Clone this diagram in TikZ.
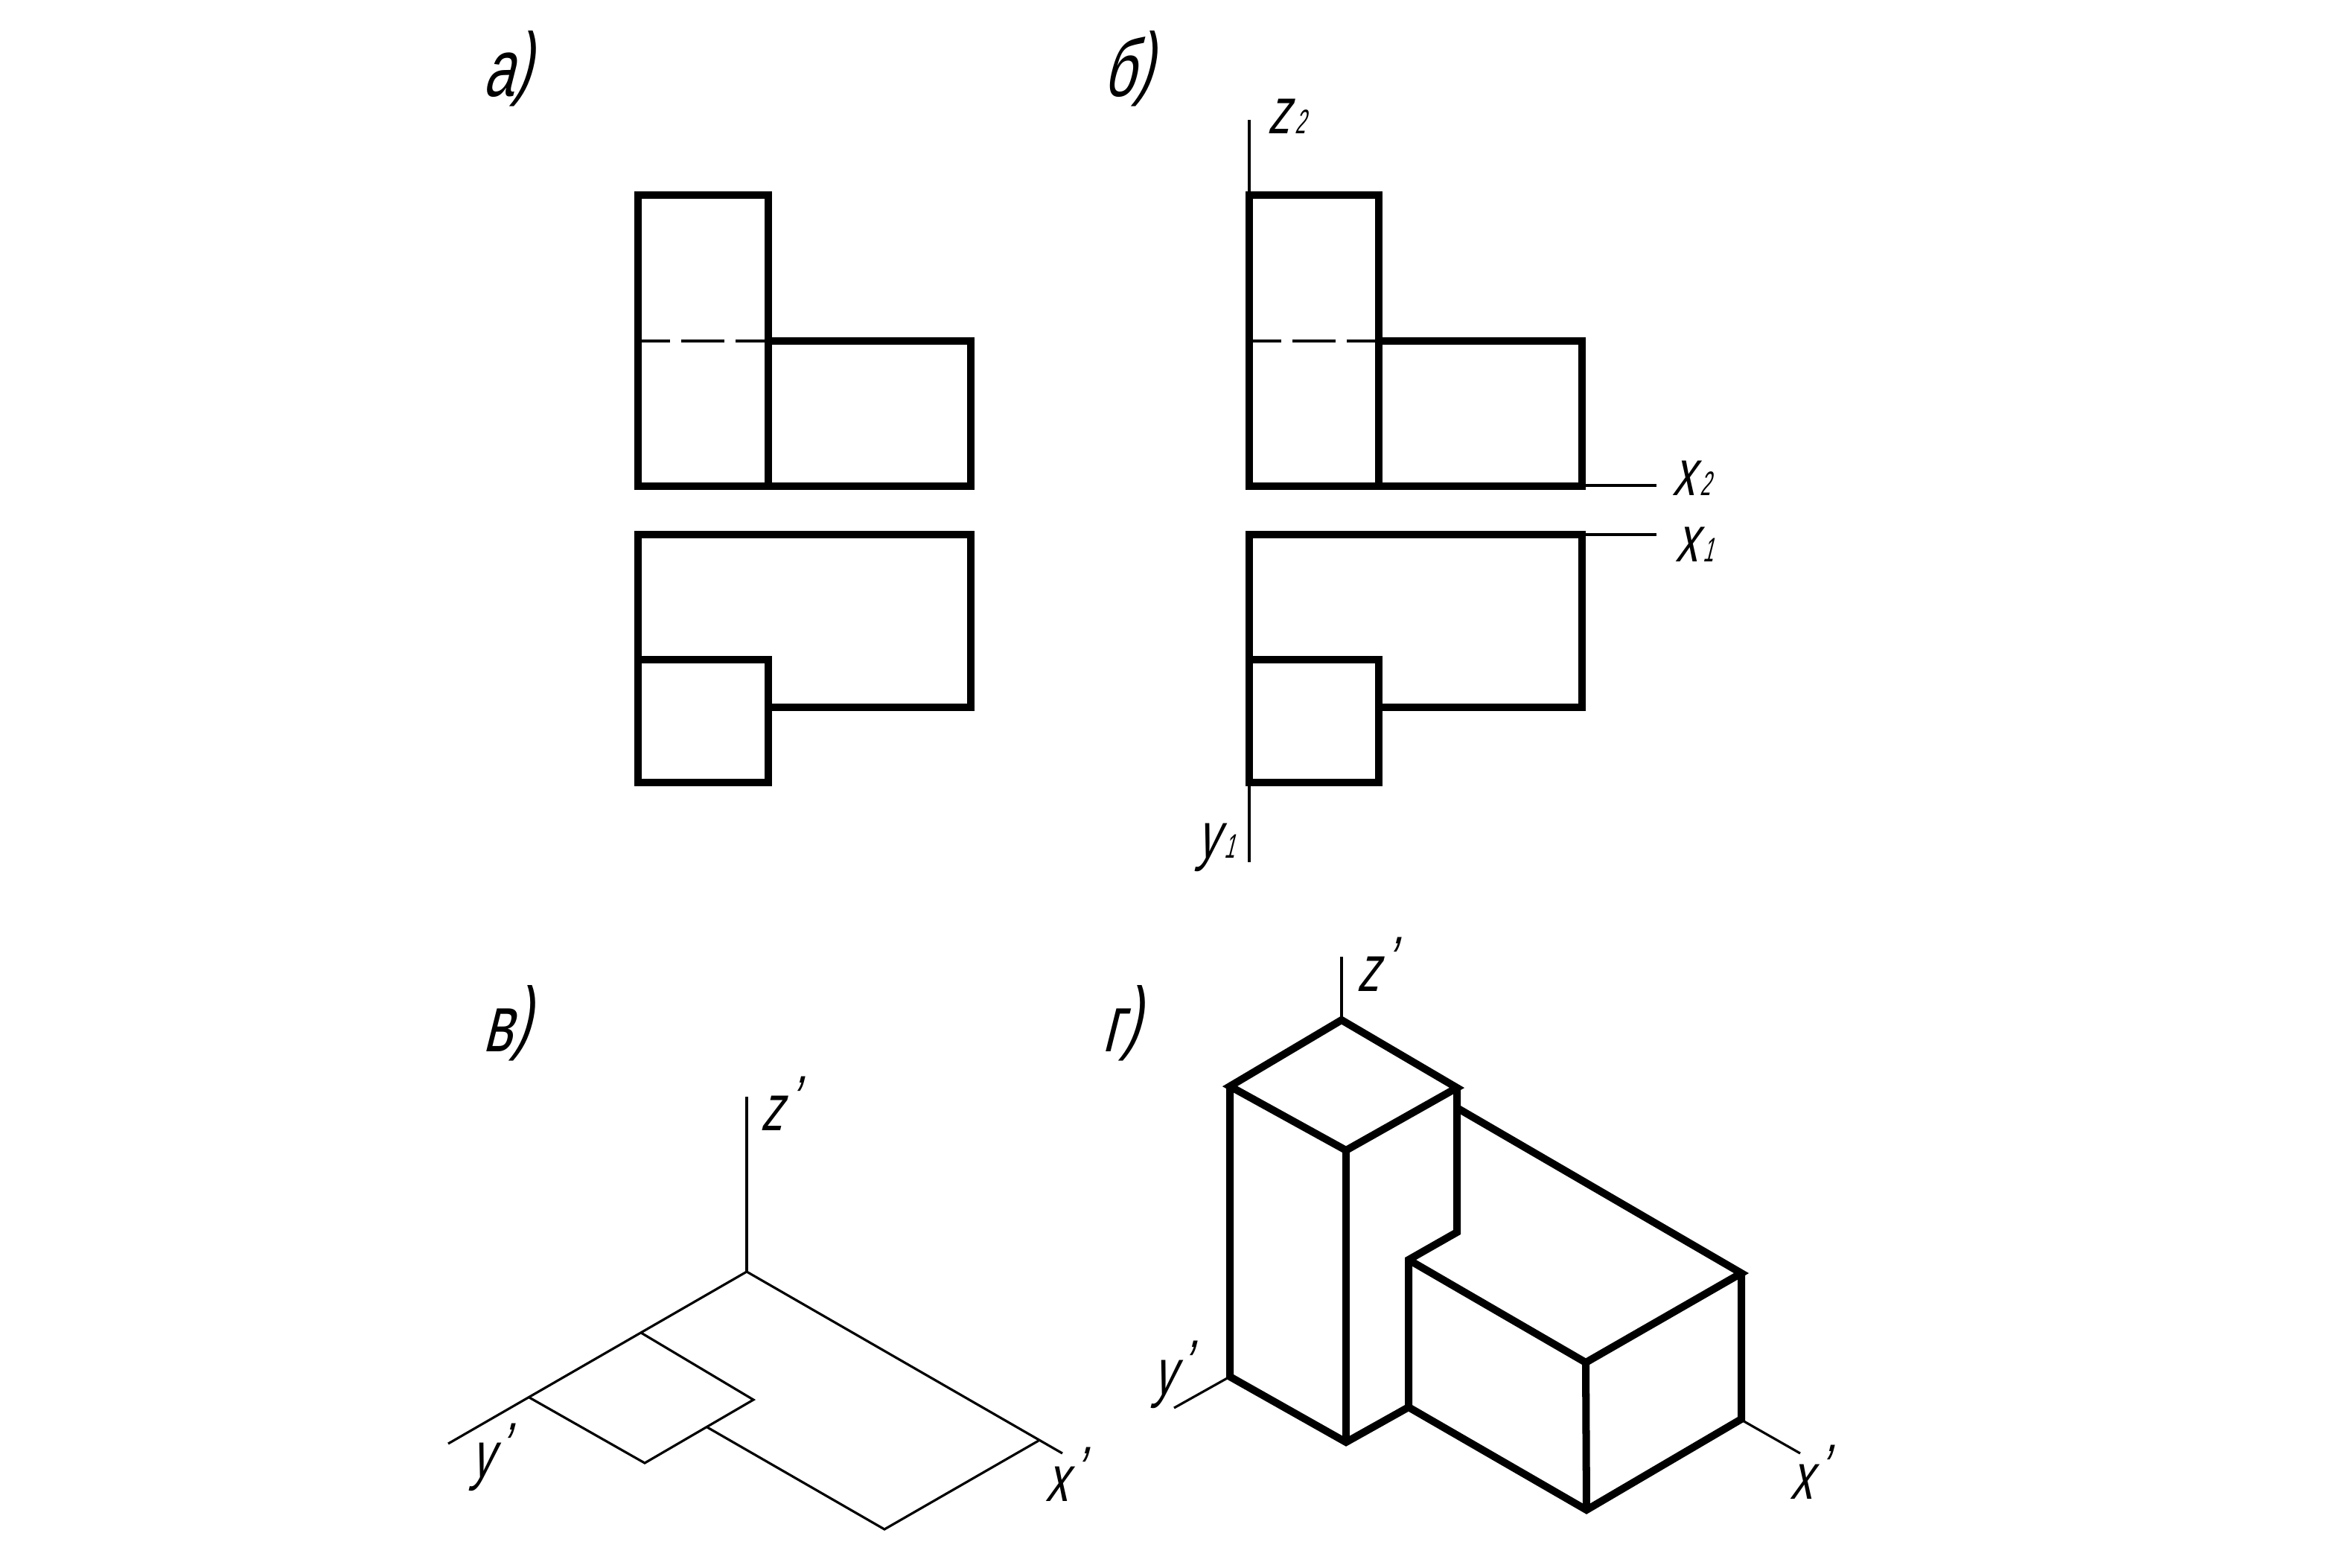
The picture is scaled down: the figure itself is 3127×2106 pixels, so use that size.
\documentclass[tikz,border=0pt]{standalone}
\usepackage{fontspec}
\setmainfont{Liberation Sans}[FakeSlant=0.25,FakeStretch=0.68]
\newfontfamily\thinfont{Liberation Sans}[FakeSlant=0.25,FakeStretch=0.55]
\newcommand{\prm}{\kern 1.6pt\raisebox{3.4pt}{'}}
\newcommand{\clo}{\raisebox{2.8pt}{)}}
\tikzset{
  contour/.style={line width=2.85pt,line join=miter},
  axisline/.style={line width=0.9pt},
  hidden/.style={line width=1.3pt,dash pattern=on 16.5pt off 4.3pt,dash phase=4.3pt},
  panel/.style={font=\fontsize{31}{31}\selectfont,inner sep=0pt,anchor=base west},
  axislabel/.style={font=\fontsize{25}{25}\selectfont,inner sep=0pt,anchor=base west},
}
\newcommand{\sub}[1]{{\thinfont\fontsize{13}{13}\selectfont\kern 2pt #1}}
\begin{document}
\begin{tikzpicture}[x=0.01cm,y=-0.01cm]
\useasboundingbox (0,0) rectangle (3127,2106);

% a
\node[panel] (pa) at (648,130) {а\clo};
\draw[contour] (857,262) rectangle (1032,653);
\draw[contour] (1032,458) -- (1304,458) -- (1304,653) -- (1032,653);
\draw[hidden] (857,458) -- (1032,458);
\draw[contour] (857,718) -- (1304,718) -- (1304,950) -- (1032,950) -- (1032,1051) -- (857,1051) -- cycle;
\draw[contour] (857,886) -- (1032,886) -- (1032,950);

% b
\node[panel] (pb) at (1481,130) {б\clo};
\draw[contour] (1678,262) rectangle (1852,653);
\draw[contour] (1852,458) -- (2125,458) -- (2125,653) -- (1852,653);
\draw[hidden] (1678,458) -- (1852,458);
\draw[contour] (1678,718) -- (2125,718) -- (2125,950) -- (1852,950) -- (1852,1051) -- (1678,1051) -- cycle;
\draw[contour] (1678,886) -- (1852,886) -- (1852,950);
\draw[axisline] (1678,161) -- (1678,262);
\draw[axisline] (2125,652) -- (2225,652);
\draw[axisline] (2125,718) -- (2225,718);
\draw[axisline] (1678,1051) -- (1678,1158);
\node[axislabel] (zb) at (1702,180) {z\sub{2}};
\node[axislabel] (xtwo) at (2246,665) {x\sub{2}};
\node[axislabel] (xone) at (2250,754) {x\sub{1}};
\node[axislabel] (yb) at (1607,1152) {y\sub{1}};

% c
\node[panel] (pc) at (648,1412) {в\clo};
\draw[axisline] (1003,1473) -- (1003,1708);
\draw[axisline] (602,1939) -- (1003,1708) -- (1427,1952);
\draw[axisline] (861,1790) -- (1012,1880) -- (866,1965) -- (711,1877);
\draw[axisline] (950,1917) -- (1188,2054) -- (1395,1935);
\node[axislabel] (zc) at (1021,1518) {z\prm};
\node[axislabel] (yc) at (632,1984) {y\prm};
\node[axislabel] (xc) at (1404,2016) {x\prm};

% d
\node[panel] (pd) at (1480,1412) {г\clo};
\draw[axisline] (1802,1285) -- (1802,1370);
\draw[axisline] (1652,1849) -- (1577,1891);
\draw[axisline] (2339,1907) -- (2418,1952);
\draw[contour] (1802,1370) -- (1957,1461) -- (1808,1545) -- (1652,1459) -- cycle;
\draw[contour] (1652,1459) -- (1652,1849) -- (1808,1937) -- (1892,1890);
\draw[contour] (1808,1545) -- (1808,1937);
\draw[contour] (1957,1461) -- (1957,1655) -- (1892,1692) -- (1892,1890);
\draw[contour] (1892,1692) -- (2130,1830) -- (2339,1710) -- (1957,1488);
\draw[contour] (2339,1710) -- (2339,1906) -- (2131,2028) -- (1892,1890);
\draw[contour] (2130,1830) -- (2131,2028);
\node[axislabel] (zd) at (1822,1331) {z\prm};
\node[axislabel] (yd) at (1548,1873) {y\prm};
\node[axislabel] (xd) at (2404,2013) {x\prm};
\end{tikzpicture}
\end{document}
